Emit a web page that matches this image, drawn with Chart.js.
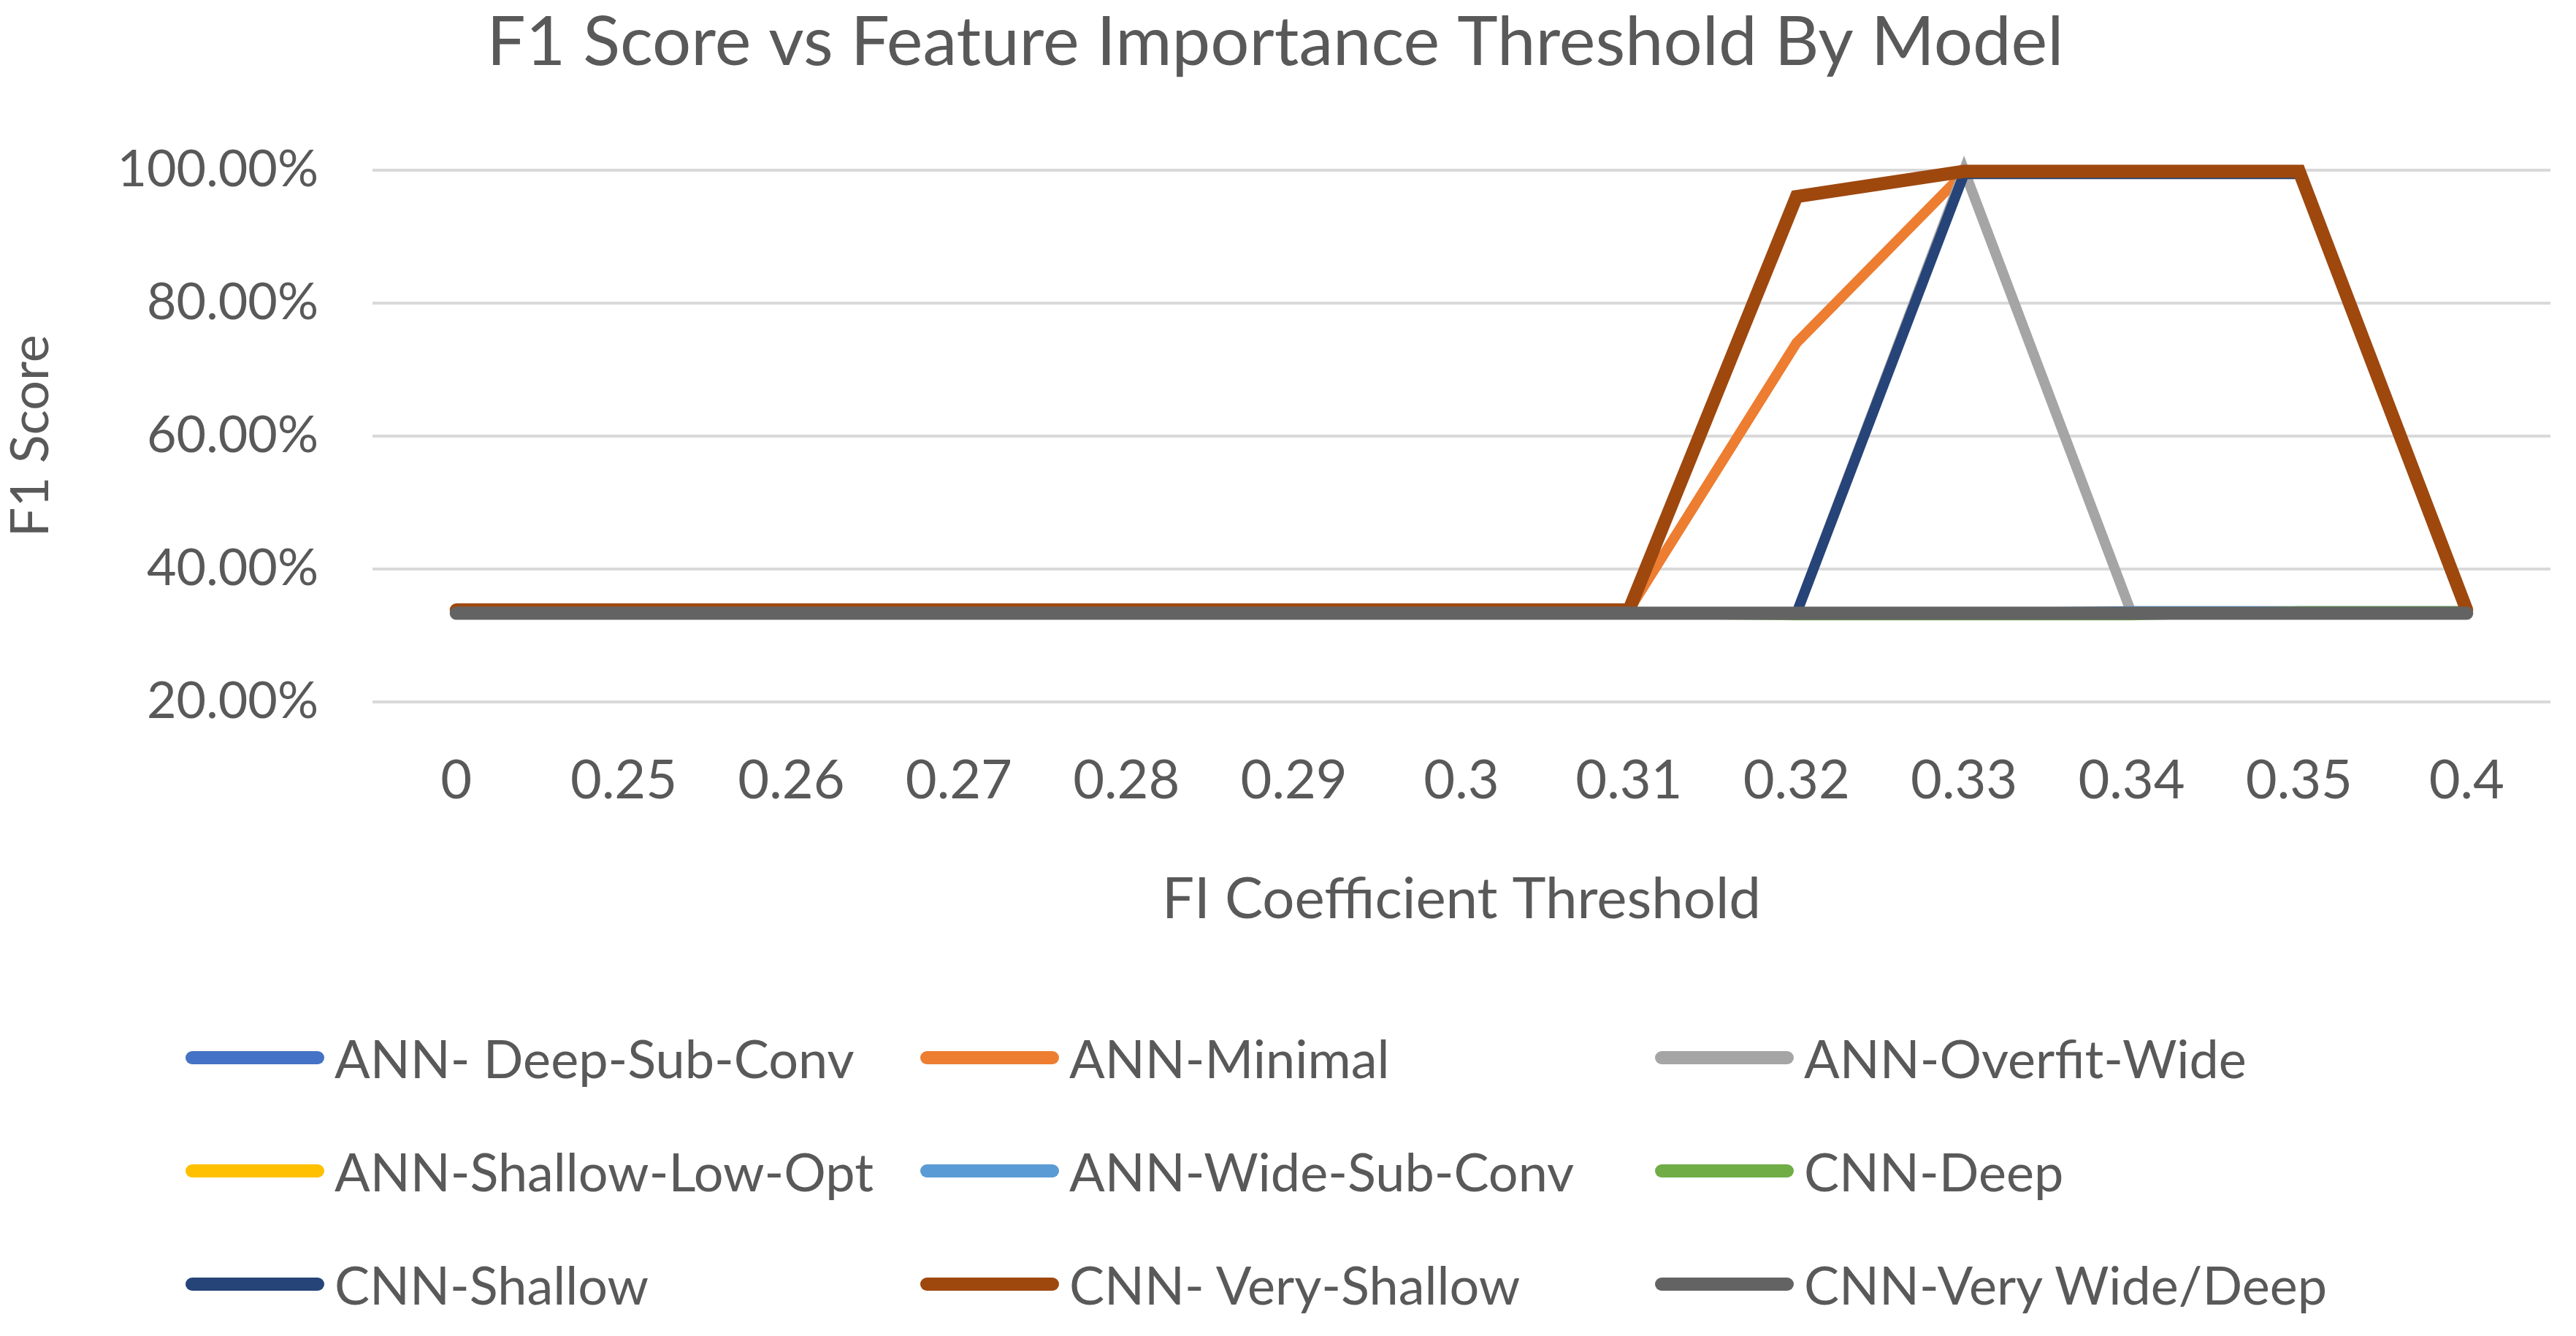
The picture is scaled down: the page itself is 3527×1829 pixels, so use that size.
<!DOCTYPE html>
<html>
<head>
<meta charset="utf-8">
<script src="https://cdn.jsdelivr.net/npm/chart.js@4.4.1/dist/chart.umd.min.js"></script>
<style>
html,body{margin:0;padding:0;background:#fff;}
#wrap{position:relative;width:3527px;height:1829px;overflow:hidden;}
#chart{position:absolute;left:0;top:0;}
#legend{position:absolute;left:254px;top:1370px;display:grid;grid-template-columns:1006px 1006px 1006px;grid-auto-rows:155px;}
.li{display:flex;align-items:center;font-family:Lato;font-size:72px;color:#595959;white-space:nowrap;}
.sw{width:190px;height:18px;border-radius:9px;margin-right:14px;flex:none;}
</style>
</head>
<body>
<div id="wrap">
<canvas id="chart" width="3527" height="1340"></canvas>
<div id="legend"></div>
</div>
<script>
const thresholds = ['0','0.25','0.26','0.27','0.28','0.29','0.3','0.31','0.32','0.33','0.34','0.35','0.4'];
const yTicks = [20,40,60,80,100];

// F1 score (%) per model
const annDeepSubConv   = [33.3,33.3,33.3,33.3,33.3,33.3,33.3,33.3,33.3,33.3,33.3,33.3,33.3];
const annMinimal       = [33.8,33.8,33.8,33.8,33.8,33.8,33.8,33.8,74,99.6,99.6,99.6,33.8];
const annOverfitWide   = [33.3,33.3,33.3,33.3,33.3,33.3,33.3,33.3,33.3,100,33.3,33.3,33.3];
const annShallowLowOpt = [33.3,33.3,33.3,33.3,33.3,33.3,33.3,33.3,33.3,33.3,33.3,33.3,33.3];
const annWideSubConv   = [33.3,33.3,33.3,33.3,33.3,33.3,33.3,33.3,33.3,33.3,33.6,33.6,33.6];
const cnnDeep          = [33.3,33.3,33.3,33.3,33.3,33.3,33.3,33.3,33.0,33.0,33.0,33.6,33.6];
const cnnShallow       = [33.3,33.3,33.3,33.3,33.3,33.3,33.3,33.3,33.3,99.4,99.4,99.4,33.3];
const cnnVeryShallow   = [33.8,33.8,33.8,33.8,33.8,33.8,33.8,33.8,96,99.8,99.8,99.8,33.8];
const cnnVeryWideDeep  = [33.3,33.3,33.3,33.3,33.3,33.3,33.3,33.3,33.3,33.3,33.3,33.3,33.3];

const names = ['ANN- Deep-Sub-Conv','ANN-Minimal','ANN-Overfit-Wide','ANN-Shallow-Low-Opt','ANN-Wide-Sub-Conv','CNN-Deep','CNN-Shallow','CNN- Very-Shallow','CNN-Very Wide/Deep'];
const series = [annDeepSubConv,annMinimal,annOverfitWide,annShallowLowOpt,annWideSubConv,cnnDeep,cnnShallow,cnnVeryShallow,cnnVeryWideDeep];
const colors = ['#4472C4','#ED7D31','#A5A5A5','#FFC000','#5B9BD5','#70AD47','#264478','#9E480E','#636363'];
const widths = [14,14,14,14,14,14,14,18,18];

const txt = '#595959';
const font = 'Lato';

let chart = new Chart(document.getElementById('chart'), {
  type:'line',
  data:{
    labels:thresholds,
    datasets:series.map((d,i)=>({
      label:names[i], data:d,
      order:series.length-i, // later series on top, like Excel
      borderColor:colors[i], backgroundColor:colors[i],
      borderWidth:widths[i], pointRadius:0,
      borderCapStyle:'round', borderJoinStyle:'miter',
      tension:0, clip:false
    }))
  },
  options:{
    responsive:false, animation:false,
    layout:{padding:{top:2,left:0,right:35,bottom:57}},
    plugins:{
      legend:{display:false},
      tooltip:{enabled:false},
      title:{display:true,text:'F1 Score vs Feature Importance Threshold By Model',
        color:txt,font:{family:font,size:94,weight:'normal'},padding:{top:0,bottom:118}}
    },
    scales:{
      x:{
        offset:true,
        grid:{display:false},
        border:{display:false},
        ticks:{color:txt,font:{family:font,size:74},padding:56,maxRotation:0},
        title:{display:true,text:'FI Coefficient Threshold',color:txt,font:{family:font,size:78},padding:{top:16}}
      },
      y:{
        min:20,max:100,
        afterBuildTicks:s=>{s.ticks=yTicks.map(v=>({value:v}));},
        grid:{color:'#D9D9D9',lineWidth:4,drawTicks:false},
        border:{display:false},
        ticks:{color:txt,font:{family:font,size:70},padding:74,callback:v=>v.toFixed(2)+'%'},
        title:{display:true,text:'F1 Score',color:txt,font:{family:font,size:72},padding:{top:0,bottom:0}}
      }
    }
  }
});

document.getElementById('legend').innerHTML = chart.data.datasets.map(d=>
  `<div class="li"><span class="sw" style="background:${d.borderColor}"></span>${d.label}</div>`).join('');
</script>
</body>
</html>
